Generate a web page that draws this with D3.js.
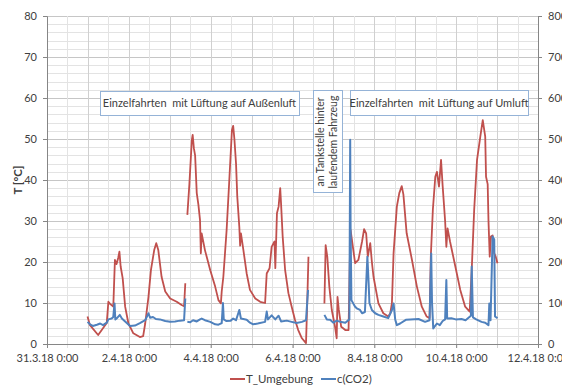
<!doctype html>
<html>
<head>
    <meta charset="utf-8">
    <script src="https://d3js.org/d3.v7.min.js"></script>
    <style>
        body { margin: 0; background: #fff; }
        text { font-family: Lato, "Open Sans", sans-serif; fill: #404040; }
    </style>
</head>
<body>
    <script>
        // time in days after 31.3.18 0:00, null = gap in the logging
        let tDays = [0.99, 1.05, 1.25, 1.46, 1.50, 1.54, 1.62, 1.66, 1.70, 1.74, 1.77, 1.80, 1.85, 1.91, 1.99, 2.11, 2.27, 2.35, 2.40, 2.48, 2.54, 2.62, 2.67, 2.72, 2.80, 2.89, 3.01, 3.17, 3.29, 3.35, 3.38,
            3.40,
            3.43, 3.48, 3.54, 3.56, 3.59, 3.62, 3.66, 3.70, 3.74, 3.76, 3.78, 3.86, 3.99, 4.11, 4.19, 4.25, 4.27, 4.31, 4.39, 4.46, 4.52, 4.55, 4.58, 4.62, 4.65, 4.70, 4.72, 4.74, 4.80, 4.88, 4.96, 5.09, 5.21, 5.33, 5.37, 5.44, 5.49, 5.56, 5.58, 5.62, 5.66, 5.70, 5.72, 5.76, 5.82, 5.90, 5.98, 6.06, 6.14, 6.23, 6.33, 6.36, 6.39,
            6.50,
            6.78, 6.81, 6.85, 6.90, 6.96, 7.04, 7.08, 7.10, 7.13, 7.19, 7.29, 7.37, 7.40, 7.42, 7.53, 7.61, 7.70, 7.75, 7.80, 7.84, 7.90, 7.94, 7.98, 8.10, 8.22, 8.34, 8.39, 8.43, 8.47, 8.55, 8.61, 8.67, 8.71, 8.79, 8.92, 9.04, 9.16, 9.28, 9.35, 9.38, 9.43, 9.49, 9.53, 9.58, 9.63, 9.67, 9.73, 9.76, 9.79, 9.85, 9.98, 10.10, 10.22, 10.33, 10.38, 10.44, 10.51, 10.59, 10.65, 10.71, 10.73, 10.77, 10.79, 10.82, 10.85, 10.89, 10.93, 10.96, 11.01];
        let tUmgebung = [6.7, 4.6, 2.2, 5.1, 10.3, 9.8, 9.1, 20.5, 19.5, 21.0, 22.5, 18.9, 16.0, 9.1, 5.0, 2.6, 1.7, 1.9, 5.0, 11.5, 18.0, 22.9, 24.6, 22.9, 16.4, 12.8, 11.1, 10.3, 9.5, 9.2, 14.8,
            null,
            31.5, 39.0, 49.8, 51.0, 47.7, 46.0, 36.8, 34.0, 30.2, 22.1, 27.0, 22.9, 18.0, 14.0, 10.7, 9.9, 12.8, 16.4, 27.8, 40.8, 52.2, 53.2, 50.0, 44.0, 36.0, 28.6, 24.0, 27.0, 22.9, 17.2, 13.2, 11.1, 10.3, 10.0, 17.2, 18.5, 23.7, 25.0, 18.5, 31.9, 33.5, 38.0, 34.3, 26.2, 18.0, 12.4, 9.1, 5.9, 3.4, 1.4, 0.2, 10.0, 21.3,
            null,
            9.9, 24.1, 21.3, 14.0, 8.3, 4.2, 1.4, 11.5, 8.5, 4.2, 3.4, 3.4, 20.0, 27.8, 19.7, 20.5, 25.0, 28.0, 27.0, 21.3, 24.6, 20.0, 16.4, 9.9, 7.5, 6.7, 7.5, 10.0, 22.1, 33.5, 36.8, 38.5, 36.5, 27.0, 20.5, 14.0, 9.1, 6.7, 6.3, 21.3, 32.7, 40.8, 42.0, 38.4, 44.9, 38.5, 30.0, 23.7, 28.2, 25.0, 18.9, 13.2, 9.1, 7.9, 18.0, 32.7, 44.9, 50.6, 54.6, 50.6, 40.8, 39.0, 30.0, 21.3, 26.2, 26.5, 22.1, 21.5, 19.7];

        let cDays = [0.99, 1.05, 1.12, 1.22, 1.30, 1.37, 1.46, 1.50, 1.58, 1.62, 1.65, 1.67, 1.71, 1.78, 1.83, 1.91, 2.03, 2.15, 2.27, 2.40, 2.48, 2.52, 2.59, 2.66, 2.76, 2.89, 3.01, 3.13, 3.25, 3.35, 3.38,
            3.40,
            3.43, 3.50, 3.57, 3.66, 3.74, 3.78, 3.86, 3.99, 4.11, 4.19, 4.27, 4.30, 4.32, 4.38, 4.49, 4.55, 4.62, 4.70, 4.74, 4.88, 4.96, 5.04, 5.15, 5.33, 5.37, 5.40, 5.49, 5.58, 5.66, 5.72, 5.86, 5.98, 6.10, 6.23, 6.33, 6.38,
            6.50,
            6.78, 6.84, 6.92, 7.00, 7.08, 7.17, 7.29, 7.39, 7.41, 7.42, 7.44, 7.53, 7.57, 7.65, 7.70, 7.77, 7.83, 7.86, 7.88, 7.94, 8.02, 8.10, 8.22, 8.34, 8.43, 8.47, 8.51, 8.55, 8.63, 8.77, 8.88, 9.08, 9.24, 9.35, 9.39, 9.41, 9.44, 9.53, 9.60, 9.67, 9.73, 9.76, 9.78, 9.88, 9.99, 10.13, 10.23, 10.36, 10.38, 10.41, 10.49, 10.62, 10.71, 10.79, 10.81, 10.84, 10.89, 10.93, 10.95, 11.01];
        let cCO2 = [54, 48, 44, 47, 50, 46, 52, 60, 62, 66, 99, 60, 63, 71, 62, 55, 44, 45, 51, 58, 75, 64, 66, 61, 60, 56, 54, 55, 57, 58, 111,
            null,
            54, 53, 58, 55, 60, 62, 58, 54, 48, 47, 51, 100, 60, 56, 57, 62, 58, 83, 62, 59, 52, 48, 50, 54, 79, 60, 70, 60, 69, 55, 57, 54, 51, 54, 58, 132,
            null,
            71, 60, 59, 52, 57, 54, 52, 60, 498, 278, 107, 91, 87, 83, 75, 78, 213, 150, 100, 83, 75, 71, 67, 63, 83, 99, 60, 46, 50, 59, 60, 61, 54, 58, 221, 100, 38, 50, 46, 56, 60, 156, 62, 63, 60, 61, 58, 69, 189, 65, 60, 54, 52, 46, 99, 58, 262, 255, 67, 63];

        let xTickDays = [0, 2, 4, 6, 8, 10, 12];
        let yTicksLeft = [0, 10, 20, 30, 40, 50, 60, 70, 80];
        let yTicksRight = [0, 100, 200, 300, 400, 500, 600, 700, 800];
        let seriesNames = ["T_Umgebung", "c(CO2)"];
        let notes = ["Einzelfahrten  mit Lüftung auf Außenluft", "Einzelfahrten  mit Lüftung auf Umluft"];
        let noteTank = ["an Tankstelle hinter", "laufendem Fahrzeug"];

        let red = "#c0504d", blue = "#4f81bd";
        let start = new Date(2018, 2, 31);
        let toDate = function(d){ return new Date(start.getTime() + d * 86400000); };

        let svg = d3.select("body").append("svg")
                    .attr("width", 562).attr("height", 385);

        let x = d3.scaleTime()
                    .domain([start, toDate(12)])
                    .range([47, 538]);
        let y = d3.scaleLinear().domain([0, 80]).range([344, 16]);
        let y2 = d3.scaleLinear().domain([0, 800]).range([344, 16]);

        // gridlines: every 2 °C and every 12 hours
        let grid = svg.append("g");
        grid.selectAll(".hm").data(d3.range(0, 81, 2)).enter().append("line")
            .attr("x1", 47).attr("x2", 538)
            .attr("y1", function(d){ return Math.round(y(d)) + 0.5; }).attr("y2", function(d){ return Math.round(y(d)) + 0.5; })
            .style("stroke", function(d){ return d % 10 == 0 ? "#c6c6c6" : "#e3e3e3"; });
        grid.selectAll(".vm").data(d3.range(0, 12.01, 0.5)).enter().append("line")
            .attr("x1", function(d){ return Math.round(x(toDate(d))) + 0.5; })
            .attr("x2", function(d){ return Math.round(x(toDate(d))) + 0.5; })
            .attr("y1", 16).attr("y2", 348)
            .style("stroke", function(d){ return d % 1 == 0 ? "#d0d0d0" : "#e3e3e3"; });

        // axes
        let xAxis = d3.axisBottom(x)
                        .tickValues(xTickDays.map(toDate))
                        .tickFormat(d3.timeFormat("%-d.%-m.%y %-H:%M"))
                        .tickSize(4).tickPadding(6);
        let gx = svg.append("g").attr("transform", "translate(0,344)").call(xAxis);
        let gy = svg.append("g").attr("transform", "translate(47,0)")
                    .call(d3.axisLeft(y).tickValues(yTicksLeft).tickSize(4).tickPadding(6));
        let gy2 = svg.append("g").attr("transform", "translate(538,0)")
                    .call(d3.axisRight(y2).tickValues(yTicksRight).tickSize(4).tickPadding(6));
        [gx, gy, gy2].forEach(function(g){
            g.selectAll("path, line").style("stroke", "#868686");
            g.selectAll("text").style("font-size", "11px").style("fill", "#404040")
                .style("font-family", "Lato, 'Open Sans', sans-serif");
        });
        gx.select(".domain").remove();
        svg.append("line").attr("x1", 47).attr("x2", 538).attr("y1", 344.5).attr("y2", 344.5).style("stroke", "#868686");

        svg.append("text").attr("transform", "translate(22,180) rotate(-90)")
            .attr("text-anchor", "middle").style("font-size", "11.5px").style("font-weight", "bold")
            .text("T [°C]");

        // series
        let tLine = d3.line()
                        .defined(function(d){ return d[1] != null; })
                        .x(function(d){ return x(toDate(d[0])); })
                        .y(function(d){ return y(d[1]); });
        let cLine = d3.line()
                        .defined(function(d){ return d[1] != null; })
                        .x(function(d){ return x(toDate(d[0])); })
                        .y(function(d){ return y2(d[1]); });
        svg.append("path").datum(d3.zip(tDays, tUmgebung)).attr("d", tLine)
            .style("fill", "none").style("stroke", red).style("stroke-width", 1.8).style("stroke-linejoin", "round");
        svg.append("path").datum(d3.zip(cDays, cCO2)).attr("d", cLine)
            .style("fill", "none").style("stroke", blue).style("stroke-width", 2).style("stroke-linejoin", "round");

        // annotation boxes
        let boxes = [
            {x: 100, y: 91, w: 199, h: 24, text: notes[0]},
            {x: 350, y: 90, w: 178, h: 25, text: notes[1]}
        ];
        boxes.forEach(function(b){
            svg.append("rect").attr("x", b.x + 0.5).attr("y", b.y + 0.5).attr("width", b.w).attr("height", b.h)
                .style("fill", "#fff").style("stroke", "#95b3d7");
            svg.append("text").attr("x", b.x + b.w / 2).attr("y", b.y + b.h / 2 + 4)
                .attr("text-anchor", "middle").style("font-size", "11px").style("white-space", "pre").text(b.text);
        });
        svg.append("rect").attr("x", 313.5).attr("y", 90.5).attr("width", 29).attr("height", 102)
            .style("fill", "#fff").style("stroke", "#95b3d7");
        noteTank.forEach(function(t, i){
            svg.append("text").attr("transform", "translate(" + (324 + i * 13) + ",142) rotate(-90)")
                .attr("text-anchor", "middle").style("font-size", "10.5px").text(t);
        });

        // legend
        let legend = svg.append("g");
        let lx = [230, 321];
        seriesNames.forEach(function(n, i){
            legend.append("line").attr("x1", lx[i]).attr("x2", lx[i] + 15).attr("y1", 379).attr("y2", 379)
                .style("stroke", i == 0 ? red : blue).style("stroke-width", 2);
            legend.append("text").attr("x", lx[i] + 16).attr("y", 383).style("font-size", "11.5px").text(n);
        });
    </script>
</body>
</html>
